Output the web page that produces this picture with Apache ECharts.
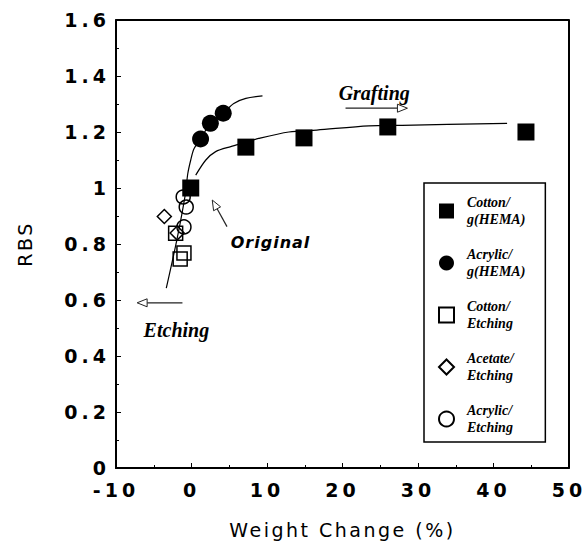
<!DOCTYPE html>
<html><head><meta charset="utf-8">
<script src="https://cdn.jsdelivr.net/npm/echarts@6/dist/echarts.min.js"></script>
<style>
html,body{margin:0;padding:0;background:#fff}
#c{width:587px;height:550px}
#c text[style*="lsA"]{letter-spacing:4px}
#c text[style*="lsB"]{letter-spacing:2.5px}
#c text[style*="lsC"]{letter-spacing:1px}
</style></head><body><div id="c"></div>
<script>
// ---- data ----
const xTickValues = [-10, 0, 10, 20, 30, 40, 50];
const yTickValues = [0, 0.2, 0.4, 0.6, 0.8, 1, 1.2, 1.4, 1.6];
const seriesNames = ['Cotton/g(HEMA)', 'Acrylic/g(HEMA)', 'Cotton/Etching', 'Acetate/Etching', 'Acrylic/Etching'];
const cottonGraft = [[-0.1, 1.0], [7.2, 1.146], [14.9, 1.179], [26.0, 1.218], [44.3, 1.2]];
const acrylicGraft = [[1.2, 1.175], [2.5, 1.231], [4.2, 1.267]];
const cottonEtch = [[-2.1, 0.838], [-1.0, 0.768], [-1.5, 0.746]];
const acetateEtch = [[-3.6, 0.898], [-1.9, 0.839]];
const acrylicEtch = [[-1.1, 0.968], [-0.7, 0.932], [-1.0, 0.861]];
const cottonTrend = [[0.56, 1.046], [1.9, 1.1], [3.2, 1.13], [5.2, 1.148], [7.2, 1.163], [8.9, 1.177], [12.9, 1.2], [16.6, 1.207], [23.5, 1.222], [27.9, 1.224], [41.8, 1.231]];
const acrylicTrend = [[-3.34, 0.642], [-1.9, 0.82], [-0.8, 0.98], [-0.5, 1.05], [-0.1, 1.1], [0.33, 1.14], [1.2, 1.175], [2.5, 1.231], [4.2, 1.267], [5.6, 1.302], [7.2, 1.32], [9.4, 1.329]];
const arrowStarts = [[20.4, 1.285], [4.7, 0.862], [-1.2, 0.59]];
const arrowEnds = [[28.6, 1.285], [2.75, 0.957], [-7.2, 0.59]];
const noteTexts = ['Grafting', 'Original', 'Etching'];
const notePositions = [[24.2, 1.339], [5.2, 0.807], [-2.0, 0.493]];

const xMin = xTickValues[0], xMax = xTickValues[xTickValues.length - 1];
const yMin = yTickValues[0], yMax = yTickValues[yTickValues.length - 1];
const frameCorners = [[xMin, yMax], [xMax, yMax], [xMax, yMin]];

const chart = echarts.init(document.getElementById('c'), null, {renderer: 'svg'});
const tickFont = {fontFamily: 'lsA, DejaVu Sans', fontWeight: 'bold', fontSize: 19, color: '#000'};
const nameFont = {fontFamily: 'lsB, DejaVu Sans', fontSize: 19, color: '#000'};
const noteFonts = [
  {font: 'italic bold 20px "Liberation Serif"', align: 'center'},
  {font: 'italic bold 16px lsC, "DejaVu Sans"', align: 'left'},
  {font: 'italic bold 20px "Liberation Serif"', align: 'center'}
];
const openStyle = {color: 'transparent', borderColor: '#000', borderWidth: 1.5, opacity: 1};

chart.setOption({
  animation: false,
  grid: {left: 116, right: 18, top: 20, bottom: 82, show: true, borderColor: '#000', borderWidth: 1.5},
  xAxis: {
    type: 'value', min: xMin, max: xMax, interval: 10,
    name: 'Weight Change (%)', nameLocation: 'middle', nameGap: 52, nameTextStyle: nameFont,
    axisLine: {onZero: false, lineStyle: {color: '#000', width: 2}},
    axisTick: {inside: true, length: 5, lineStyle: {color: '#000'}},
    minorTick: {show: true, splitNumber: 2, length: 3, lineStyle: {color: '#000'}},
    splitLine: {show: false},
    axisLabel: Object.assign({margin: 12}, tickFont)
  },
  yAxis: {
    type: 'value', min: yMin, max: yMax, interval: 0.2,
    name: 'RBS', nameLocation: 'middle', nameGap: 82, nameTextStyle: nameFont,
    axisLine: {onZero: false, lineStyle: {color: '#000', width: 2}},
    axisTick: {inside: true, length: 5, lineStyle: {color: '#000'}},
    minorTick: {show: true, splitNumber: 2, length: 3, lineStyle: {color: '#000'}},
    splitLine: {show: false},
    axisLabel: Object.assign({margin: 6}, tickFont)
  },
  legend: {
    orient: 'vertical', left: 424, top: 183,
    data: seriesNames,
    padding: [11, 20, 6, 14], itemGap: 18, itemWidth: 15, itemHeight: 15,
    backgroundColor: '#fff', borderColor: '#000', borderWidth: 1.5,
    formatter: n => n.replace('/', '/\n'),
    textStyle: {fontFamily: 'Liberation Serif', fontStyle: 'italic', fontWeight: 'bold', fontSize: 14, lineHeight: 17, color: '#000', padding: [0, 0, 0, 8]}
  },
  series: [
    {type: 'line', data: frameCorners, showSymbol: false, silent: true, clip: false, lineStyle: {color: '#000', width: 2}, z: 2},
    {type: 'line', data: cottonTrend, smooth: 0.3, showSymbol: false, silent: true, lineStyle: {color: '#000', width: 1.2}, z: 2},
    {type: 'line', data: acrylicTrend, smooth: 0.3, showSymbol: false, silent: true, lineStyle: {color: '#000', width: 1.2}, z: 2},
    {
      type: 'custom', silent: true, z: 2, clip: false,
      data: arrowStarts.map((s, i) => [s[0], s[1], arrowEnds[i][0], arrowEnds[i][1]]),
      renderItem: function (params, api) {
        const p1 = api.coord([api.value(0), api.value(1)]);
        const p2 = api.coord([api.value(2), api.value(3)]);
        const dx = p2[0] - p1[0], dy = p2[1] - p1[1], L = Math.hypot(dx, dy);
        const ux = dx / L, uy = dy / L, hl = 10, hw = 4;
        const b = [p2[0] - ux * hl, p2[1] - uy * hl];
        return {type: 'group', children: [
          {type: 'line', shape: {x1: p1[0], y1: p1[1], x2: b[0], y2: b[1]}, style: {stroke: '#222', lineWidth: 1.2}},
          {type: 'polygon', shape: {points: [p2, [b[0] - uy * hw, b[1] + ux * hw], [b[0] + uy * hw, b[1] - ux * hw]]}, style: {fill: '#fff', stroke: '#222', lineWidth: 1}}
        ]};
      }
    },
    {
      type: 'custom', silent: true, z: 2, clip: false,
      data: notePositions,
      renderItem: function (params, api) {
        const p = api.coord([api.value(0), api.value(1)]);
        const f = noteFonts[params.dataIndex];
        return {type: 'text', x: p[0], y: p[1], style: {text: noteTexts[params.dataIndex], font: f.font, fill: '#000', align: f.align, verticalAlign: 'middle'}};
      }
    },
    {name: seriesNames[3], type: 'scatter', data: acetateEtch, symbol: 'diamond', symbolSize: 14, itemStyle: openStyle, z: 3},
    {name: seriesNames[2], type: 'scatter', data: cottonEtch, symbol: 'rect', symbolSize: 14, itemStyle: openStyle, z: 3},
    {name: seriesNames[4], type: 'scatter', data: acrylicEtch, symbol: 'circle', symbolSize: 14, itemStyle: openStyle, z: 3},
    {name: seriesNames[1], type: 'scatter', data: acrylicGraft, symbol: 'circle', symbolSize: 17, itemStyle: {color: '#000', opacity: 1}, z: 4},
    {name: seriesNames[0], type: 'scatter', data: cottonGraft, symbol: 'rect', symbolSize: 17, itemStyle: {color: '#000', opacity: 1}, z: 4}
  ]
});
</script></body></html>
